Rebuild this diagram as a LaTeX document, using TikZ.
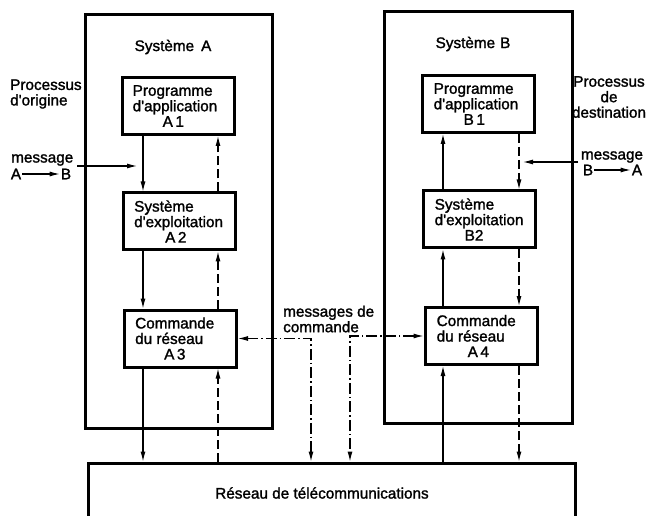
\documentclass[tikz,border=0pt]{standalone}
\usepackage{fontspec}
\usetikzlibrary{arrows.meta}
\newfontfamily\diagfont[FakeBold=1.5]{Liberation Sans}

\tikzset{
  txt/.style={font=\diagfont\fontsize{15.3}{15.5}\selectfont, inner sep=1pt},
  frame/.style={draw, line width=3pt},
  unitbox/.style={frame, minimum width=112pt, minimum height=57pt},
  tip/.style={-{Latex[length=10pt,width=5pt]}},
  sol/.style={tip, line width=1.1pt},
  dsh/.style={tip, line width=1.1pt, dash pattern=on 9pt off 4pt},
  ctl/.style={{Latex[length=10pt,width=5pt]}-{Latex[length=10pt,width=5pt]}, line width=1.1pt,
              dash pattern=on 11pt off 3pt on 1.5pt off 3pt},
}

\begin{document}
\begin{tikzpicture}[x=1pt,y=-1pt]
\useasboundingbox (0,0) rectangle (646,516);
\clip (0,0) rectangle (646,516);

% the two end systems and the network
\node[frame, minimum width=187pt, minimum height=413pt] (sysA) at (178.5,221.5) {};
\node[frame, minimum width=188pt, minimum height=411pt] (sysB) at (478,217.5) {};
\node[frame, minimum width=487pt, minimum height=80pt] (net) at (331.5,503) {};

\node[txt] (tsysA) at (173,47) {Système\hspace{7pt}A};
\node[txt] (tsysB) at (473,44) {Système\hspace{5pt}B};
\node[txt] (tnet) at (322,493) {Réseau de télécommunications};

% layers of system A
\node[unitbox] (a1) at (178,106) {};
\node[unitbox] (a2) at (179.5,221.5) {};
\node[unitbox] (a3) at (180.5,338.5) {};
% layers of system B
\node[unitbox] (b1) at (478,104) {};
\node[unitbox] (b2) at (479,219.5) {};
\node[unitbox] (a4) at (481,336) {};

\node[txt, anchor=west, align=left] (ta1) at ([xshift=11pt]a1.west) {Programme\\d'application\\\hspace*{30pt}A\,1};
\node[txt, anchor=west, align=left] (ta2) at ([xshift=11pt]a2.west) {Système\\d'exploitation\\\hspace*{31pt}A\,2};
\node[txt, anchor=west, align=left] (ta3) at ([xshift=11pt]a3.west) {Commande\\du réseau\\\hspace*{29pt}A\,3};
\node[txt, anchor=west, align=left] (tb1) at ([xshift=12pt]b1.west) {Programme\\d'application\\\hspace*{30pt}B\,1};
\node[txt, anchor=west, align=left] (tb2) at ([xshift=12pt]b2.west) {Système\\d'exploitation\\\hspace*{30pt}B2};
\node[txt, anchor=west, align=left] (ta4) at ([xshift=12pt]a4.west) {Commande\\du réseau\\\hspace*{31pt}A\,4};

% columns of the vertical flows
\coordinate (sa) at (143,0);
\coordinate (da) at (218,0);
\coordinate (sb) at (443,0);
\coordinate (db) at (519,0);
\coordinate (cl) at (311,0);
\coordinate (cr) at (350,0);

% system A: data down, replies up
\draw[sol] (sa |- a1.south) -- (sa |- a2.north);
\draw[sol] (sa |- a2.south) -- (sa |- a3.north);
\draw[sol] (sa |- a3.south) -- (sa |- net.north);
\draw[dsh] (da |- net.north) -- (da |- a3.south);
\draw[dsh] (da |- a3.north) -- (da |- a2.south);
\draw[dsh] (da |- a2.north) -- (da |- a1.south);

% system B: data up, replies down
\draw[sol] (sb |- net.north) -- (sb |- a4.south);
\draw[sol] (sb |- a4.north) -- (sb |- b2.south);
\draw[sol] (sb |- b2.north) -- (sb |- b1.south);
\draw[dsh] (db |- b1.south) -- (db |- b2.north);
\draw[dsh] (db |- b2.south) -- (db |- a4.north);
\draw[dsh] (db |- a4.south) -- (db |- net.north);

% control messages
\draw[ctl] (a3.east) -- (a3.east -| cl) -- (cl |- net.north);
\draw[ctl] (a4.west) -- (a4.west -| cr) -- (cr |- net.north);
\node[txt, anchor=west, align=left] (tctl) at (282,319) {messages de\\commande};

% origin process
\node[txt, anchor=west, align=left] (porig) at (9,94) {Processus\\d'origine};
\node[txt, anchor=west] (msgA) at (10,160) {message};
\node[txt] (lA1) at (16,174) {A};
\node[txt] (lB1) at (66,174) {B};
\draw[sol] (lA1) -- (lB1);
\coordinate (inA0) at (77,166);
\coordinate (inA1) at (137,166);
\draw[sol] (inA0) -- (inA1);

% destination process
\node[txt, align=center] (pdest) at (609,97) {Processus\\de\\destination};
\node[txt] (msgB) at (612,157) {message};
\node[txt] (lB2) at (588,170) {B};
\node[txt] (lA2) at (637,170) {A};
\draw[sol] (lB2) -- (lA2);
\coordinate (inB0) at (578,162);
\coordinate (inB1) at (523,162);
\draw[sol] (inB0) -- (inB1);
\end{tikzpicture}
\end{document}
